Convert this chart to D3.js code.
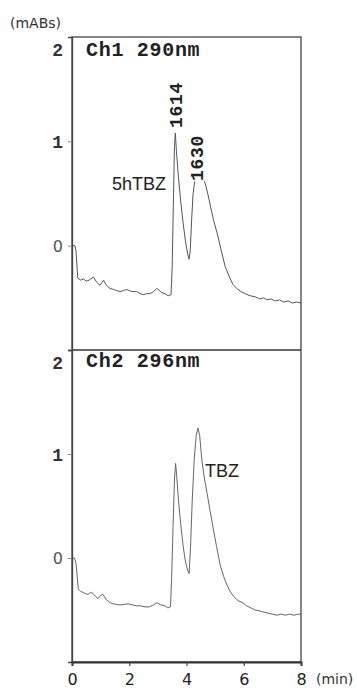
<!DOCTYPE html>
<html><head><meta charset="utf-8">
<script src="https://cdn.jsdelivr.net/npm/d3@7"></script>
<style>
body{margin:0;background:#fff;}
svg{display:block;}
</style></head>
<body>
<svg id="c" width="357" height="690"></svg>
<script>
// ---- data ----
const ch1Time = [0,0.1,0.14,0.2,0.3,0.4,0.5,0.6,0.75,0.86,0.98,1.1,1.2,1.33,1.45,1.55,1.68,1.8,1.91,2.0,2.1,2.26,2.38,2.49,2.6,2.72,2.85,2.96,3.05,3.13,3.25,3.36,3.46,3.5,3.54,3.58,3.61,3.65,3.72,3.8,3.88,3.96,4.04,4.09,4.13,4.18,4.23,4.3,4.38,4.46,4.55,4.65,4.75,4.85,4.95,5.07,5.2,5.35,5.5,5.62,5.75,5.9,6.05,6.22,6.4,6.55,6.7,6.81,6.95,7.1,7.25,7.4,7.55,7.7,7.85,8.0];
const ch1Abs  = [0,0,-0.05,-0.31,-0.33,-0.32,-0.34,-0.33,-0.30,-0.35,-0.38,-0.33,-0.38,-0.41,-0.42,-0.43,-0.44,-0.43,-0.42,-0.43,-0.44,-0.44,-0.46,-0.47,-0.46,-0.46,-0.44,-0.41,-0.43,-0.45,-0.46,-0.48,-0.47,-0.2,0.4,0.95,1.08,0.9,0.65,0.42,0.22,0.05,-0.08,-0.13,-0.05,0.25,0.5,0.64,0.68,0.68,0.66,0.6,0.49,0.36,0.24,0.12,-0.03,-0.2,-0.30,-0.37,-0.41,-0.44,-0.46,-0.48,-0.49,-0.51,-0.50,-0.52,-0.51,-0.53,-0.52,-0.54,-0.53,-0.55,-0.54,-0.55];
const ch2Time = [0,0.08,0.14,0.22,0.3,0.45,0.56,0.65,0.73,0.82,0.91,1.0,1.08,1.2,1.33,1.45,1.61,1.75,1.96,2.1,2.25,2.4,2.55,2.7,2.85,2.97,3.1,3.25,3.35,3.44,3.48,3.53,3.58,3.62,3.66,3.72,3.8,3.88,3.96,4.04,4.09,4.14,4.2,4.27,4.34,4.4,4.46,4.54,4.63,4.72,4.82,4.93,5.05,5.17,5.3,5.4,5.52,5.65,5.8,5.97,6.1,6.25,6.4,6.57,6.7,6.85,7.0,7.16,7.3,7.45,7.6,7.75,7.9,8.0];
const ch2Abs  = [0,0,-0.05,-0.30,-0.32,-0.34,-0.35,-0.33,-0.34,-0.37,-0.39,-0.36,-0.35,-0.40,-0.43,-0.44,-0.45,-0.45,-0.44,-0.45,-0.46,-0.46,-0.47,-0.47,-0.45,-0.43,-0.45,-0.46,-0.48,-0.47,-0.2,0.3,0.75,0.91,0.78,0.55,0.32,0.12,-0.03,-0.12,-0.15,0.1,0.55,0.95,1.18,1.25,1.18,0.93,0.76,0.62,0.46,0.29,0.11,-0.06,-0.18,-0.25,-0.32,-0.37,-0.41,-0.43,-0.46,-0.48,-0.50,-0.51,-0.52,-0.53,-0.54,-0.55,-0.54,-0.55,-0.54,-0.55,-0.54,-0.54];
const xTicks = [0,2,4,6,8];
const yTicks = [0,1,2];
const channelLabels = ["Ch1 290nm","Ch2 296nm"];
const peakLabels = ["1614","1630"];
const compoundLabels = ["5hTBZ","TBZ"];
const yUnit = "(mABs)";
const xUnit = "(min)";

// ---- layout ----
const svg = d3.select("#c");
const L = 72, R = 301, T = 37, M = 350, B = 662;
const x = d3.scaleLinear().domain([0,8]).range([L,R]);
const yTop = d3.scaleLinear().domain([-1,2]).range([M,T]);
const yBot = d3.scaleLinear().domain([-1,2]).range([B,M]);

// traces
function trace(times, vals, y, color){
  const pts = times.map((t,i)=>[t,vals[i]]);
  svg.append("path").datum(pts)
    .attr("fill","none").attr("stroke",color).attr("stroke-width",1)
    .attr("stroke-linejoin","round")
    .attr("d", d3.line().x(d=>x(d[0])).y(d=>y(d[1])));
}
trace(ch1Time, ch1Abs, yTop, "#555");
trace(ch2Time, ch2Abs, yBot, "#666");

// frame
svg.append("rect").attr("x",L).attr("y",T).attr("width",R-L).attr("height",B-T)
  .attr("fill","none").attr("stroke","#444").attr("stroke-width",1.3);
svg.append("line").attr("x1",L).attr("x2",R).attr("y1",M).attr("y2",M)
  .attr("stroke","#333").attr("stroke-width",1.5);

// y axes
function yAxis(y){
  const g = svg.append("g").attr("transform",`translate(${L},0)`)
    .call(d3.axisLeft(y).tickValues(yTicks).tickSize(4).tickPadding(5).tickFormat(d3.format("d")));
  g.select(".domain").attr("stroke","#444").attr("stroke-width",1.3);
  g.selectAll(".tick line").attr("stroke","#888");
  g.selectAll(".tick text")
    .attr("fill","#333")
    .style("font-family","'Liberation Mono', monospace")
    .style("font-weight","bold").style("font-size","18px")
    .attr("dy", d => d===2 ? "1.05em" : "0.36em")
    .filter(d=>d===0)
      .style("font-family","'DejaVu Sans', sans-serif")
      .style("font-weight","normal").style("font-size","16px").attr("fill","#555");
  g.selectAll(".tick").filter(d=>d===2).select("line").remove();
}
yAxis(yTop);
yAxis(yBot);

// x axis
const gx = svg.append("g").attr("transform",`translate(0,${B})`)
  .call(d3.axisBottom(x).tickValues(xTicks).tickSize(4).tickFormat(d3.format("d")));
gx.select(".domain").attr("stroke","#333").attr("stroke-width",2);
gx.selectAll(".tick line").attr("stroke","#444").attr("stroke-width",1.2);
gx.selectAll(".tick text").attr("y",23).attr("dy",0).attr("fill","#222")
  .style("font-family","'DejaVu Sans', sans-serif").style("font-size","16px");

// texts
svg.append("text").attr("x",10).attr("y",28).text(yUnit)
  .style("font-family","'DejaVu Sans', sans-serif").style("font-size","14px").attr("fill","#333");
svg.append("text").attr("x",316).attr("y",684).text(xUnit)
  .style("font-family","'DejaVu Sans', sans-serif").style("font-size","14px").attr("fill","#333");

[[channelLabels[0],56],[channelLabels[1],367]].forEach(([s,yy])=>{
  svg.append("text").attr("x",86).attr("y",yy).text(s)
    .style("font-family","'Liberation Mono', monospace").style("font-weight","bold")
    .style("font-size","20px").style("letter-spacing","0.7px").attr("fill","#222");
});

[[peakLabels[0],182,128],[peakLabels[1],203,181]].forEach(([s,px,py])=>{
  svg.append("text").attr("transform",`translate(${px},${py}) rotate(-90)`).text(s)
    .style("font-family","'Liberation Mono', monospace").style("font-weight","bold")
    .style("font-size","18px").style("letter-spacing","0.7px").attr("fill","#222")
    .attr("stroke","#fff").attr("stroke-width",3).style("paint-order","stroke");
});

svg.append("text").attr("x",112).attr("y",190).text(compoundLabels[0])
  .style("font-family","'Liberation Sans', sans-serif").style("font-size","18px").attr("fill","#222");
svg.append("text").attr("x",205).attr("y",477).text(compoundLabels[1])
  .style("font-family","'Liberation Sans', sans-serif").style("font-size","18px").attr("fill","#222");
</script>
</body></html>
